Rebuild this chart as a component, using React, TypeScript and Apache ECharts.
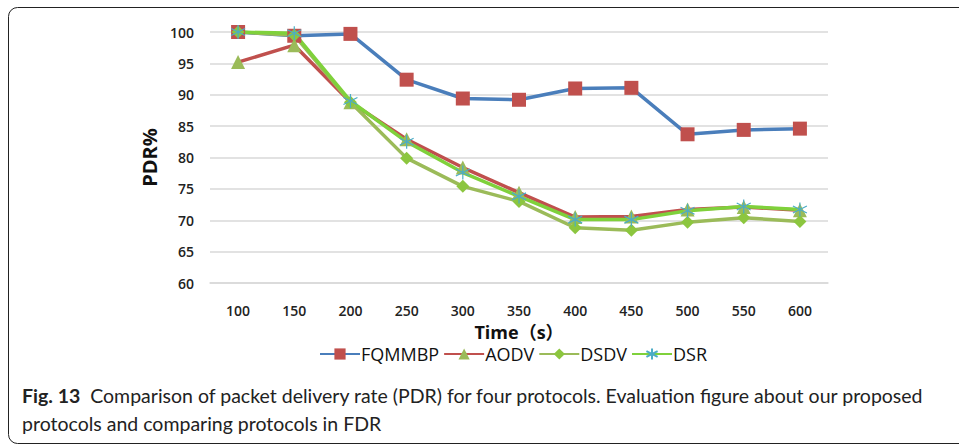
import React, { useEffect, useRef } from "react";
import * as echarts from "echarts";

const categories = ["100", "150", "200", "250", "300", "350", "400", "450", "500", "550", "600"];
const fqmmbp = [100, 99.4, 99.7, 92.4, 89.4, 89.2, 91.0, 91.1, 83.7, 84.4, 84.6];
const aodv = [95.2, 97.9, 88.8, 82.9, 78.4, 74.4, 70.5, 70.6, 71.7, 72.1, 71.6];
const dsdv = [100, 99.5, 88.8, 79.9, 75.4, 73.0, 68.8, 68.4, 69.7, 70.4, 69.8];
const dsr = [100, 99.8, 89.0, 82.5, 77.6, 73.8, 70.1, 70.1, 71.5, 72.2, 71.7];
const seriesNames = ["FQMMBP", "AODV", "DSDV", "DSR"];

const asterisk = "path://M0,-10L0,10M-8.66,-5L8.66,5M-8.66,5L8.66,-5";

export default function App() {
  const ref = useRef<HTMLDivElement>(null);
  useEffect(() => {
    const chart = echarts.init(ref.current!, null, { renderer: "svg" });
    const lbl = { fontFamily: "Open Sans", fontSize: 14, fontWeight: 600, color: "#222" };
    chart.setOption({
      animation: false,
      backgroundColor: "#fff",
      grid: { left: 210, right: 131, top: 32, bottom: 163 },
      legend: {
        top: 340,
        left: 314,
        itemWidth: 40,
        itemHeight: 14,
        itemGap: 4,
        textStyle: { fontFamily: "Open Sans", fontSize: 18, color: "#111", padding: [0, 0, 0, -4] },
        data: seriesNames,
      },
      xAxis: {
        type: "category",
        data: categories,
        boundaryGap: true,
        axisLine: { show: true, lineStyle: { color: "#d9d9d9", width: 1.5 } },
        axisTick: { show: false },
        axisLabel: { ...lbl, margin: 20 },
        name: "Time（s）",
        nameLocation: "middle",
        nameGap: 35,
        nameTextStyle: { fontFamily: "Open Sans, Noto Sans CJK SC", fontSize: 18, fontWeight: 700, color: "#111", lineHeight: 20 },
      },
      yAxis: {
        type: "value",
        min: 60,
        max: 100,
        interval: 5,
        axisLine: { show: false },
        axisTick: { show: false },
        axisLabel: { ...lbl, margin: 16 },
        splitLine: { lineStyle: { color: "#d9d9d9", width: 1.5 } },
        name: "PDR%",
        nameLocation: "middle",
        nameGap: 49,
        nameTextStyle: { fontFamily: "Open Sans", fontSize: 20, fontWeight: 700, color: "#111" },
      },
      series: [
        {
          name: "FQMMBP",
          type: "line",
          data: fqmmbp,
          symbol: "rect",
          symbolSize: 14,
          lineStyle: { color: "#4a7ebb", width: 3.5 },
          itemStyle: { color: "#c0504d" },
        },
        {
          name: "AODV",
          type: "line",
          data: aodv,
          symbol: "triangle",
          symbolSize: 14,
          lineStyle: { color: "#c0504d", width: 3.5 },
          itemStyle: { color: "#9bbb59" },
        },
        {
          name: "DSDV",
          type: "line",
          data: dsdv,
          symbol: "diamond",
          symbolSize: 13,
          lineStyle: { color: "#9bbb59", width: 3.5 },
          itemStyle: { color: "#8cc63f" },
        },
        {
          name: "DSR",
          type: "line",
          data: dsr,
          symbol: asterisk,
          symbolSize: 14,
          lineStyle: { color: "#7fd13b", width: 3.5 },
          itemStyle: { color: "#4bacc6", borderColor: "#4bacc6", borderWidth: 1.2 },
        },
      ],
      graphic: [
        {
          type: "rect",
          silent: true,
          shape: { x: 8.5, y: 7.5, width: 1000, height: 436, r: 9 },
          style: { fill: "none", stroke: "#222", lineWidth: 1 },
        },
        {
          type: "text",
          left: 22,
          top: 381,
          style: {
            text: "{b|Fig. 13}  Comparison of packet delivery rate (PDR) for four protocols. Evaluation figure about our proposed\nprotocols and comparing protocols in FDR",
            fontFamily: "Lato",
            fontSize: 19.5,
            lineHeight: 28,
            fill: "#222",
            rich: {
              b: { fontFamily: "Lato", fontSize: 19.5, fontWeight: 700, fill: "#222" },
            },
          },
        },
      ],
    });
    return () => chart.dispose();
  }, []);
  return <div ref={ref} style={{ width: 959, height: 446, position: "absolute", left: 0, top: 0 }} />;
}
